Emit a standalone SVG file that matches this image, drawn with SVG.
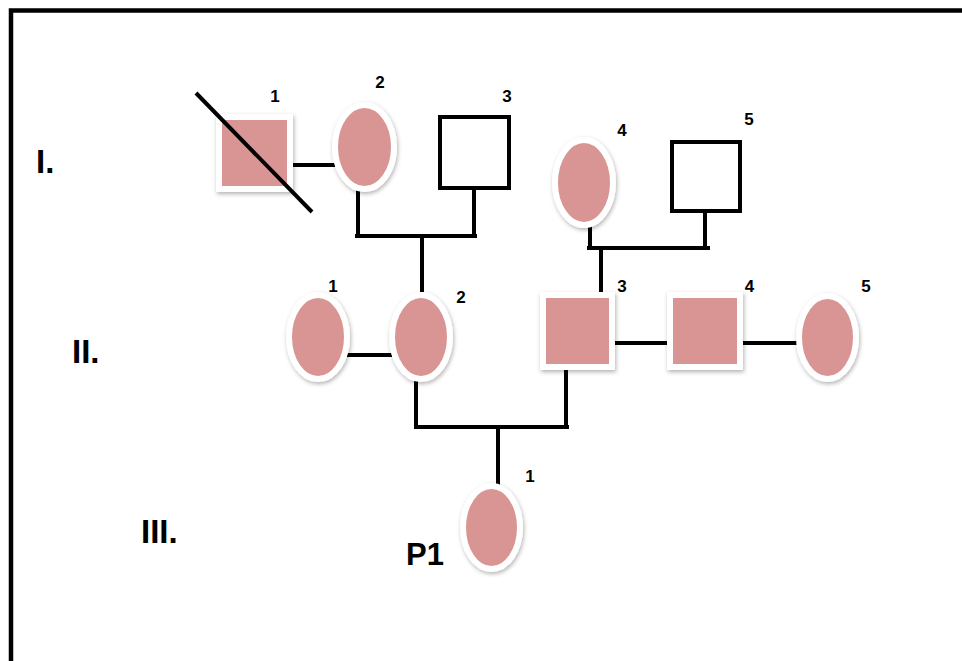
<svg xmlns="http://www.w3.org/2000/svg" width="962" height="661" viewBox="0 0 962 661">
<defs>
<filter id="sh" x="-30%" y="-30%" width="160%" height="160%">
<feDropShadow dx="1" dy="2" stdDeviation="2" flood-color="#000" flood-opacity="0.3"/>
</filter>
<style>
.aff{fill:#D99594;stroke:#fff;stroke-width:6;filter:url(#sh)}
.un{fill:#fff;stroke:#000;stroke-width:4}
.ln{fill:none;stroke:#000;stroke-width:4}
.num{font-family:"Liberation Sans",Arial,sans-serif;font-weight:bold;font-size:17px;text-anchor:middle;fill:#000}
.gen{font-family:"Liberation Sans",Arial,sans-serif;font-weight:bold;font-size:33px;fill:#000}
</style>
</defs>
<rect width="962" height="661" fill="#fff"/>
<path d="M11 661 V10.5 H962" fill="none" stroke="#000" stroke-width="4.5"/>
<g id="generation-labels">
<text class="gen" x="36" y="173">I.</text>
<text class="gen" x="72" y="363">II.</text>
<text class="gen" x="141" y="543">III.</text>
</g>
<g id="connectors">
<path class="ln" d="M293 165 H335"/>
<path class="ln" d="M358 189 V236 M355 236 H477 M474 190 V238 M422 236 V292"/>
<path class="ln" d="M590 224 V248 M587 248 H710 M705 213 V250 M601 248 V296"/>
<path class="ln" d="M347 355 H392"/>
<path class="ln" d="M614 343 H668 M742 343 H797"/>
<path class="ln" d="M416 378 V428 M414 427 H569 M566 366 V429 M498 427 V485"/>
</g>
<g id="I-1">
<rect class="aff" x="219" y="117" width="71" height="72"/>
<line x1="196" y1="93" x2="312" y2="212" stroke="#000" stroke-width="4"/>
<text class="num" x="275" y="102">1</text>
</g>
<g id="I-2">
<ellipse class="aff" cx="364.5" cy="147" rx="29.5" ry="42"/>
<text class="num" x="380" y="88">2</text>
</g>
<g id="I-3">
<rect class="un" x="440" y="117" width="69" height="71"/>
<text class="num" x="507" y="102">3</text>
</g>
<g id="I-4">
<ellipse class="aff" cx="584" cy="182.5" rx="29" ry="42.5"/>
<text class="num" x="622" y="136">4</text>
</g>
<g id="I-5">
<rect class="un" x="672" y="142" width="68" height="69"/>
<text class="num" x="749" y="125">5</text>
</g>
<g id="II-1">
<ellipse class="aff" cx="318" cy="337" rx="29" ry="42"/>
<text class="num" x="333" y="292">1</text>
</g>
<g id="II-2">
<ellipse class="aff" cx="421" cy="337" rx="29" ry="42"/>
<text class="num" x="461" y="303">2</text>
</g>
<g id="II-3">
<rect class="aff" x="543" y="295" width="69" height="72"/>
<text class="num" x="622" y="292">3</text>
</g>
<g id="II-4">
<rect class="aff" x="670" y="295" width="70" height="72"/>
<text class="num" x="749.5" y="292">4</text>
</g>
<g id="II-5">
<ellipse class="aff" cx="827.5" cy="337.5" rx="28.5" ry="41.5"/>
<text class="num" x="866" y="292">5</text>
</g>
<g id="III-1">
<ellipse class="aff" cx="491.5" cy="527.5" rx="28.5" ry="41.5"/>
<text class="num" x="530" y="482">1</text>
<text class="gen" x="406" y="565" style="font-size:31px">P1</text>
</g>
</svg>
